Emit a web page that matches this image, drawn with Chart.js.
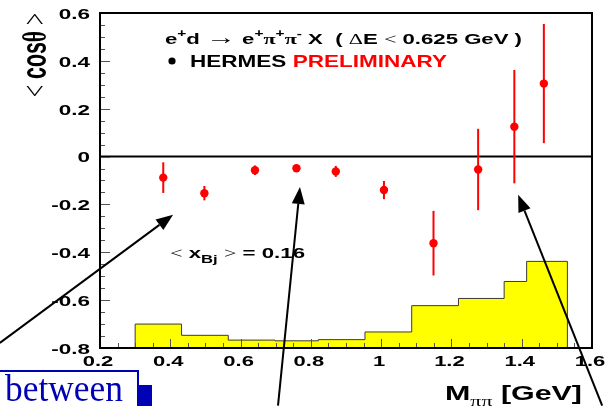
<!DOCTYPE html>
<html>
<head>
<meta charset="utf-8">
<script src="https://cdn.jsdelivr.net/npm/chart.js@4/dist/chart.umd.min.js"></script>
<style>
  html, body { margin: 0; padding: 0; background: #ffffff; }
  canvas { display: block; }
</style>
</head>
<body>
<canvas id="c" width="611" height="406"></canvas>
<script>
// <cos theta> versus the pi+ pi- invariant mass
const massGeV = [0.380, 0.497, 0.641, 0.759, 0.871, 1.008, 1.149, 1.276, 1.379, 1.463];
const cosMean = [-0.088, -0.153, -0.057, -0.049, -0.062, -0.140, -0.362, -0.054, 0.125, 0.305];
const cosErr  = [0.064, 0.030, 0.020, 0.010, 0.023, 0.038, 0.135, 0.170, 0.237, 0.249];

// mass distribution, drawn as a step histogram sitting on the bottom of the frame
const binEdges  = [0.300, 0.432, 0.565, 0.698, 0.821, 0.954, 1.087, 1.220, 1.350, 1.414, 1.530];
const binLevels = [-0.700, -0.747, -0.767, -0.770, -0.765, -0.733, -0.623, -0.593, -0.522, -0.438];

// axis ticks
const xTicks = [0.2, 0.4, 0.6, 0.8, 1.0, 1.2, 1.4, 1.6];
const yTicks = [-0.8, -0.6, -0.4, -0.2, 0, 0.2, 0.4, 0.6];
const xMinorStep = 0.05;
const yMinorStep = 0.05;

// arrows (data coordinates: tail -> tip)
const arrows = [
  { from: [-0.085, -0.779], to: [0.408, -0.243] },
  { from: [0.7065, -1.041], to: [0.769, -0.127] },
  { from: [1.629, -1.041], to: [1.390, -0.160] }
];

const SANS = '"Liberation Sans", Arial, Helvetica, sans-serif';
const SERIF = '"Liberation Serif", "Times New Roman", serif';
const RED = '#ff0000';

function partFont(p, size) {
  const s = size * (p.s || 1);
  return (p.b === false ? 'normal' : 'bold') + ' ' + s + 'px ' + (p.serif ? SERIF : SANS);
}
function naturalWidth(ctx, parts, size) {
  let w = 0;
  for (const p of parts) { ctx.font = partFont(p, size); w += ctx.measureText(p.t).width; }
  return w;
}
// draws a run of styled text pieces, optionally stretched to a given width
function drawRich(ctx, parts, o) {
  const W = naturalWidth(ctx, parts, o.size);
  const sx = o.width ? o.width / W : (o.sx || 1);
  ctx.save();
  ctx.translate(o.x, o.y);
  if (o.rot) ctx.rotate(o.rot);
  ctx.scale(sx, o.sy || 1);
  let x = o.align === 'right' ? -W : (o.align === 'center' ? -W / 2 : 0);
  ctx.textBaseline = 'alphabetic';
  ctx.textAlign = 'left';
  for (const p of parts) {
    ctx.font = partFont(p, o.size);
    ctx.fillStyle = p.c || o.color || '#000';
    ctx.fillText(p.t, x, (p.dy || 0) * o.size);
    x += ctx.measureText(p.t).width;
  }
  ctx.restore();
}
function fmt(v) { return String(Math.round(v * 10) / 10); }

const histPoints = [{ x: binEdges[0], y: -0.8 }];
binLevels.forEach((v, i) => histPoints.push({ x: binEdges[i], y: v }));
histPoints.push({ x: binEdges[binEdges.length - 1], y: binLevels[binLevels.length - 1] });
histPoints.push({ x: binEdges[binEdges.length - 1], y: -0.8 });

const decor = {
  id: 'decor',
  beforeDatasetsDraw(chart) {
    const { ctx, chartArea: a, scales: { x, y } } = chart;
    ctx.save();
    // zero line
    const y0 = y.getPixelForValue(0);
    ctx.strokeStyle = '#000'; ctx.lineWidth = 2;
    ctx.beginPath(); ctx.moveTo(a.left, y0); ctx.lineTo(a.right, y0); ctx.stroke();
    // error bars
    ctx.strokeStyle = RED; ctx.lineWidth = 2;
    massGeV.forEach((m, i) => {
      const px = x.getPixelForValue(m);
      ctx.beginPath();
      ctx.moveTo(px, y.getPixelForValue(cosMean[i] + cosErr[i]));
      ctx.lineTo(px, y.getPixelForValue(cosMean[i] - cosErr[i]));
      ctx.stroke();
    });
    ctx.restore();
  },
  afterDatasetsDraw(chart) {
    const { ctx, chartArea: a, scales: { x, y } } = chart;
    ctx.save();
    // inward ticks
    ctx.strokeStyle = '#555'; ctx.lineWidth = 1;
    const nx = Math.round((x.max - x.min) / xMinorStep);
    for (let k = 0; k <= nx; k++) {
      const v = x.min + k * xMinorStep;
      const px = Math.round(x.getPixelForValue(v)) + 0.5;
      const major = k % 4 === 0;
      ctx.beginPath(); ctx.moveTo(px, a.bottom); ctx.lineTo(px, a.bottom - (major ? 9 : 5)); ctx.stroke();
    }
    const ny = Math.round((y.max - y.min) / yMinorStep);
    for (let k = 0; k <= ny; k++) {
      const v = y.min + k * yMinorStep;
      const py = Math.round(y.getPixelForValue(v)) + 0.5;
      const major = k % 4 === 0;
      ctx.beginPath(); ctx.moveTo(a.left, py); ctx.lineTo(a.left + (major ? 10 : 5), py); ctx.stroke();
    }
    // frame
    ctx.strokeStyle = '#000'; ctx.lineWidth = 2;
    ctx.strokeRect(a.left, a.top, a.right - a.left, a.bottom - a.top);
    ctx.restore();
  },
  afterDraw(chart) {
    const { ctx, chartArea: a, scales: { x, y } } = chart;
    ctx.save();
    // tick labels
    y.ticks.forEach(t => {
      drawRich(ctx, [{ t: fmt(t.value) }], { x: a.left - 10, y: y.getPixelForValue(t.value) + 5.8, size: 15.5, sx: 1.45, align: 'right' });
    });
    x.ticks.forEach(t => {
      drawRich(ctx, [{ t: fmt(t.value) }], { x: x.getPixelForValue(t.value) - 2, y: 365.5, size: 15.5, sx: 1.42, align: 'center' });
    });
    // axis titles
    drawRich(ctx, [
      { t: 'M' },
      { t: 'ππ', serif: true, b: false, s: 0.72, dy: 0.3 },
      { t: ' [GeV]' }
    ], { x: 445, y: 400, size: 21, width: 137 });
    drawRich(ctx, [
      { t: '<', serif: true, b: false },
      { t: ' cos' },
      { t: 'θ', serif: true },
      { t: ' ' },
      { t: '>', serif: true, b: false }
    ], { x: 46, y: 55, size: 23, sy: 1.5, width: 84, align: 'center', rot: -Math.PI / 2 });
    // reaction and legend
    drawRich(ctx, [
      { t: 'e' }, { t: '+', s: 0.7, dy: -0.45 }, { t: 'd ' },
      { t: '→', b: false, s: 1.35, dy: -0.02 },
      { t: ' e' }, { t: '+', s: 0.7, dy: -0.45 },
      { t: 'π', serif: true }, { t: '+', s: 0.7, dy: -0.45 },
      { t: 'π', serif: true }, { t: '-', s: 0.7, dy: -0.45 },
      { t: ' X  ( ' },
      { t: 'Δ', serif: true, b: false },
      { t: 'E ' },
      { t: '<', serif: true, b: false },
      { t: ' 0.625 GeV )' }
    ], { x: 165, y: 44, size: 14.5, width: 357 });
    ctx.fillStyle = '#000';
    ctx.beginPath(); ctx.arc(172, 61, 3.6, 0, Math.PI * 2); ctx.fill();
    drawRich(ctx, [
      { t: 'HERMES ' },
      { t: 'PRELIMINARY', c: RED }
    ], { x: 190, y: 67, size: 16.5, width: 257 });
    drawRich(ctx, [
      { t: '<', serif: true, b: false },
      { t: ' x' },
      { t: 'Bj', s: 0.75, dy: 0.3 },
      { t: ' ' },
      { t: '>', serif: true, b: false },
      { t: ' = 0.16' }
    ], { x: 170, y: 258, size: 15, width: 135 });
    // arrows
    ctx.strokeStyle = '#000'; ctx.fillStyle = '#000'; ctx.lineWidth = 2;
    arrows.forEach(ar => {
      const x1 = x.getPixelForValue(ar.from[0]), y1 = y.getPixelForValue(ar.from[1]);
      const x2 = x.getPixelForValue(ar.to[0]), y2 = y.getPixelForValue(ar.to[1]);
      const ang = Math.atan2(y2 - y1, x2 - x1);
      const L = 17, H = 6.5;
      const bx = x2 - L * Math.cos(ang), by = y2 - L * Math.sin(ang);
      ctx.beginPath(); ctx.moveTo(x1, y1); ctx.lineTo(bx, by); ctx.stroke();
      ctx.beginPath();
      ctx.moveTo(x2, y2);
      ctx.lineTo(bx + H * Math.sin(ang), by - H * Math.cos(ang));
      ctx.lineTo(bx - H * Math.sin(ang), by + H * Math.cos(ang));
      ctx.closePath(); ctx.fill();
    });
    // word box below the frame
    const BLUE = '#0000b4';
    ctx.strokeStyle = BLUE; ctx.lineWidth = 2;
    ctx.beginPath(); ctx.moveTo(-2, 371); ctx.lineTo(138, 371); ctx.lineTo(138, 410); ctx.stroke();
    ctx.fillStyle = BLUE;
    ctx.fillRect(138, 385, 14, 25);
    drawRich(ctx, [{ t: 'between', serif: true, b: false }], { x: 5, y: 401, size: 38, width: 118, color: BLUE });
    ctx.restore();
  }
};

new Chart(document.getElementById('c'), {
  type: 'scatter',
  data: {
    datasets: [
      {
        label: 'HERMES',
        data: massGeV.map((m, i) => ({ x: m, y: cosMean[i] })),
        pointRadius: 4.2,
        pointBackgroundColor: RED,
        pointBorderWidth: 0,
        showLine: false,
        order: 1
      },
      {
        type: 'line',
        label: 'M distribution',
        data: histPoints,
        stepped: 'before',
        fill: { value: -0.8 },
        backgroundColor: '#ffff00',
        borderColor: '#3a3a3a',
        borderWidth: 1,
        pointRadius: 0,
        order: 2
      }
    ]
  },
  options: {
    responsive: false,
    animation: false,
    devicePixelRatio: 1,
    layout: { padding: { left: 0, top: 13, right: 19, bottom: 0 } },
    plugins: { legend: { display: false }, tooltip: { enabled: false } },
    scales: {
      x: {
        type: 'linear', min: 0.2, max: 1.6,
        afterBuildTicks: s => { s.ticks = xTicks.map(v => ({ value: v })); },
        afterFit: s => { s.height = 58; },
        ticks: { display: false },
        grid: { display: false },
        border: { display: false }
      },
      y: {
        type: 'linear', min: -0.8, max: 0.6,
        afterBuildTicks: s => { s.ticks = yTicks.map(v => ({ value: v })); },
        afterFit: s => { s.width = 100; },
        ticks: { display: false },
        grid: { display: false },
        border: { display: false }
      }
    }
  },
  plugins: [decor]
});
</script>
</body>
</html>
